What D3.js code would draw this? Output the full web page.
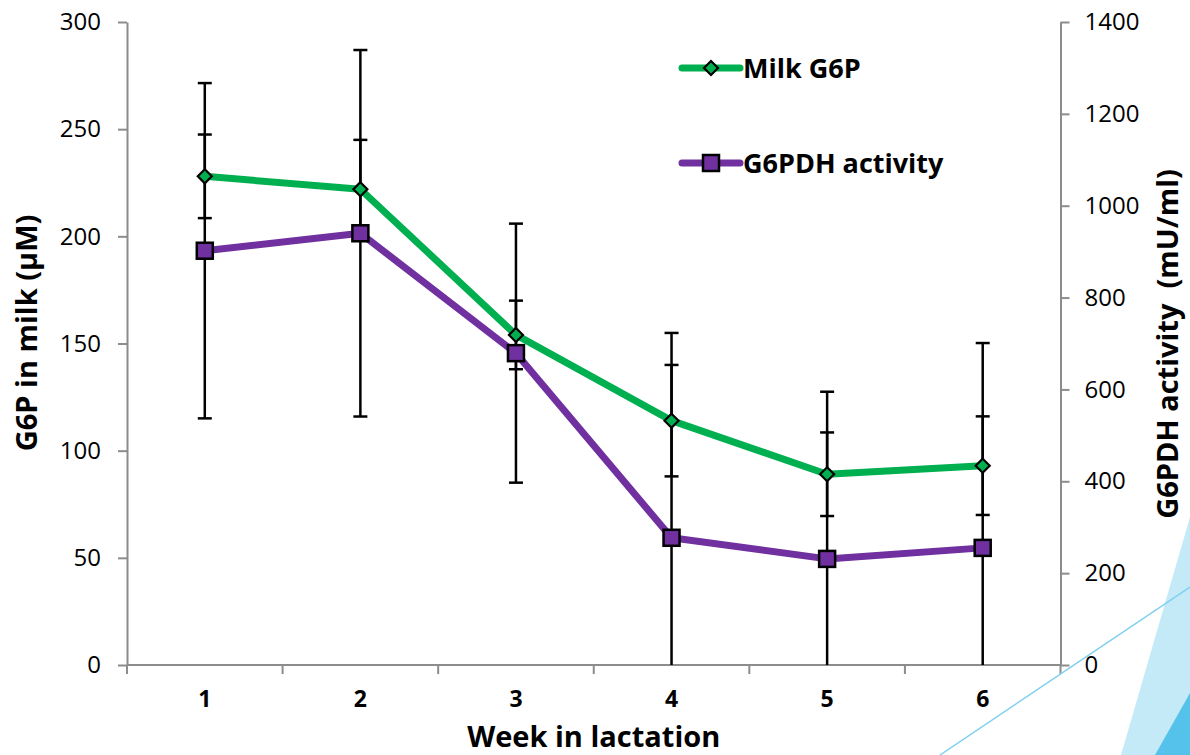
<!DOCTYPE html>
<html>
<head>
<meta charset="utf-8">
<script src="https://cdn.jsdelivr.net/npm/d3@7"></script>
<style>
  body { margin: 0; background: #fff; }
  svg { display: block; font-family: "Open Sans", "Liberation Sans", sans-serif; }
</style>
</head>
<body>
<div id="chart"></div>
<script>
var weeks = ["1", "2", "3", "4", "5", "6"];
var g6p = [228, 222, 154, 114, 89, 93];          // µM, left axis
var g6pErr = [19.5, 23, 16, 26, 19.5, 23];
var g6pdh = [902, 940, 679, 277, 231, 255];     // mU/ml, right axis
var g6pdhErr = [365, 399, 282, 446, 364, 446];
var leftTicks = [0, 50, 100, 150, 200, 250, 300];
var rightTicks = [0, 200, 400, 600, 800, 1000, 1200, 1400];

var width = 1190, height = 755;
var margin = {top: 22, right: 130, bottom: 90, left: 127};

var svg = d3.select("#chart").append("svg")
    .attr("width", width)
    .attr("height", height);

// slide decoration, bottom right corner
svg.append("polygon")
    .attr("points", "1190,517 1190,755 1121,755")
    .attr("fill", "#c4eaf8");
svg.append("polygon")
    .attr("points", "1190,693 1190,755 1155,755")
    .attr("fill", "#54c2ea");

var x = d3.scaleBand()
    .domain(weeks)
    .range([margin.left, width - margin.right + 0.5])
    .paddingInner(0).paddingOuter(0);
var yL = d3.scaleLinear().domain([0, 300]).range([height - margin.bottom, margin.top]);
var yR = d3.scaleLinear().domain([0, 1400]).range([height - margin.bottom, margin.top]);

function cx(i) { return x(weeks[i]) + x.bandwidth() / 2; }

var axisColor = "#8c8c8c";

// left axis
var gl = svg.append("g")
    .attr("transform", "translate(" + margin.left + ",0)")
    .call(d3.axisLeft(yL).tickValues(leftTicks).tickSize(9).tickPadding(17).tickSizeOuter(0));
// right axis
var gr = svg.append("g")
    .attr("transform", "translate(" + x.range()[1] + ",0)")
    .call(d3.axisRight(yR).tickValues(rightTicks).tickFormat(d3.format("d"))
        .tickSize(9).tickPadding(15).tickSizeOuter(0));
// bottom axis, ticks sit between categories
var gb = svg.append("g")
    .attr("transform", "translate(0," + yL(0) + ")");
gb.append("line")
    .attr("x1", x.range()[0]).attr("x2", x.range()[1]);
gb.selectAll("line.tk")
    .data(d3.range(weeks.length + 1))
    .enter().append("line")
    .attr("class", "tk")
    .attr("x1", function(d) { return x.range()[0] + d * x.bandwidth(); })
    .attr("x2", function(d) { return x.range()[0] + d * x.bandwidth(); })
    .attr("y2", 9);
gb.selectAll("text")
    .data(weeks)
    .enter().append("text")
    .attr("x", function(d, i) { return cx(i); })
    .attr("y", 42)
    .attr("text-anchor", "middle")
    .style("font-size", "23px")
    .style("font-weight", "bold")
    .text(function(d) { return d; });

[gl, gr].forEach(function(g) {
    g.select(".domain").attr("stroke", axisColor).attr("stroke-width", 2);
    g.selectAll(".tick line").attr("stroke", axisColor).attr("stroke-width", 2);
    g.selectAll(".tick text").style("font-size", "24px").attr("fill", "#000")
        .style("font-family", "\"Open Sans\", sans-serif");
});
gb.selectAll("line").attr("stroke", axisColor).attr("stroke-width", 2);

// axis titles
svg.append("text")
    .attr("transform", "translate(37,333) rotate(-90)")
    .attr("text-anchor", "middle")
    .style("font-size", "29px").style("font-weight", "bold")
    .text("G6P in milk (µM)");
svg.append("text")
    .attr("transform", "translate(1178,344) rotate(-90)")
    .attr("text-anchor", "middle")
    .style("font-size", "29px").style("font-weight", "bold")
    .text("G6PDH activity\u00a0 (mU/ml)");
svg.append("text")
    .attr("x", (x.range()[0] + x.range()[1]) / 2)
    .attr("y", 747)
    .attr("text-anchor", "middle")
    .style("font-size", "29px").style("font-weight", "bold")
    .text("Week in lactation");

var green = "#00b050", purple = "#7030a0";

var series = [
    {name: "G6PDH activity", values: g6pdh, err: g6pdhErr, y: yR, color: purple, marker: "square"},
    {name: "Milk G6P", values: g6p, err: g6pErr, y: yL, color: green, marker: "diamond"}
];

var line = function(s) {
    return d3.line()
        .x(function(d, i) { return cx(i); })
        .y(function(d) { return s.y(d); })(s.values);
};

series.forEach(function(s) {
    svg.append("path")
        .attr("d", line(s))
        .attr("fill", "none")
        .attr("stroke", s.color)
        .attr("stroke-width", 7)
        .attr("stroke-linejoin", "round");
});

// error bars
series.forEach(function(s) {
    var eb = svg.append("g").attr("stroke", "#000").attr("stroke-width", 2.5);
    s.values.forEach(function(v, i) {
        var hi = v + s.err[i], lo = Math.max(0, v - s.err[i]);
        var xx = cx(i);
        eb.append("line").attr("x1", xx).attr("x2", xx).attr("y1", s.y(hi)).attr("y2", s.y(lo));
        eb.append("line").attr("x1", xx - 7).attr("x2", xx + 7).attr("y1", s.y(hi)).attr("y2", s.y(hi));
        if (v - s.err[i] > 0) {
            eb.append("line").attr("x1", xx - 7).attr("x2", xx + 7).attr("y1", s.y(lo)).attr("y2", s.y(lo));
        }
    });
});

function drawMarker(g, type, color, px, py) {
    if (type === "square") {
        g.append("rect")
            .attr("x", px - 8).attr("y", py - 8)
            .attr("width", 16).attr("height", 16)
            .attr("fill", color).attr("stroke", "#000").attr("stroke-width", 2.5);
    } else {
        g.append("path")
            .attr("d", "M" + px + "," + (py - 7) + "L" + (px + 7) + "," + py + "L" + px + "," + (py + 7) + "L" + (px - 7) + "," + py + "Z")
            .attr("fill", color).attr("stroke", "#000").attr("stroke-width", 2.2);
    }
}

series.forEach(function(s) {
    var mg = svg.append("g");
    s.values.forEach(function(v, i) { drawMarker(mg, s.marker, s.color, cx(i), s.y(v)); });
});

// legend
var legend = svg.append("g")
    .selectAll("g")
    .data([series[1], series[0]])
    .enter().append("g")
    .attr("transform", function(d, i) { return "translate(682," + (68 + i * 95) + ")"; });

legend.append("line")
    .attr("x2", 58)
    .attr("stroke", function(d) { return d.color; })
    .attr("stroke-width", 7)
    .attr("stroke-linecap", "round");
legend.each(function(d) { drawMarker(d3.select(this), d.marker, d.color, 29, 0); });
legend.append("text")
    .attr("x", 61)
    .attr("dy", "0.36em")
    .style("font-size", "27px").style("font-weight", "bold")
    .text(function(d) { return d.name; });

// thin accent line of the slide
svg.append("line")
    .attr("x1", 940).attr("y1", 755).attr("x2", 1190).attr("y2", 587)
    .attr("stroke", "#7fd0ef").attr("stroke-width", 1.5);
</script>
</body>
</html>
